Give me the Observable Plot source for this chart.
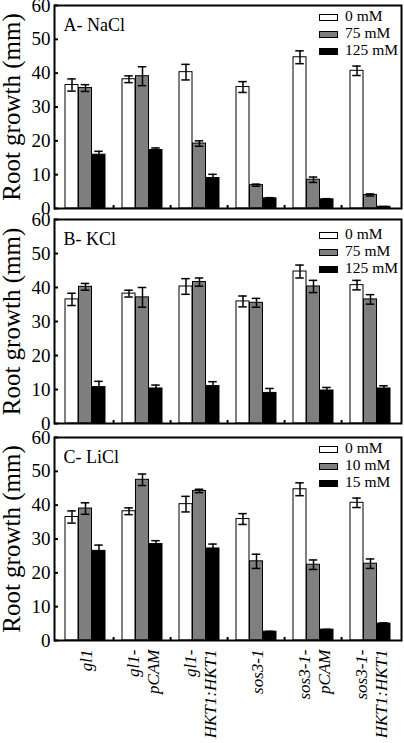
<!DOCTYPE html>
<html><head><meta charset="utf-8">
<script src="https://cdn.jsdelivr.net/npm/d3@7"></script>
<script src="https://cdn.jsdelivr.net/npm/@observablehq/plot@0.6"></script>
<style>
html,body{margin:0;padding:0;background:#fff;}
#chart{position:relative;width:404px;height:743px;overflow:hidden;font-family:"Liberation Serif","Times New Roman",serif;}
#chart svg{display:block;}
#chart svg text{font-family:"Liberation Serif","Times New Roman",serif;}
.panel{position:relative;}
.leg{position:absolute;font-size:15.5px;line-height:1;color:#000;white-space:nowrap;font-family:"Liberation Serif","Times New Roman",serif;}
.sw{position:absolute;width:17px;height:5px;border:1px solid #000;}
</style></head><body><div id="chart"></div>
<script>
// ---- data ----
const groups = ["gl1", "gl1-pCAM", "gl1-HKT1:HKT1", "sos3-1", "sos3-1-pCAM", "sos3-1-HKT1:HKT1"];
const groupLabels = ["gl1", "gl1-\npCAM", "gl1-\nHKT1:HKT1", "sos3-1", "sos3-1-\npCAM", "sos3-1-\nHKT1:HKT1"];
const yTicks = [0, 10, 20, 30, 40, 50, 60];
const panelTitles = ["A- NaCl", "B- KCl", "C- LiCl"];
const legendNaCl = ["0 mM", "75 mM", "125 mM"];
const legendKCl = ["0 mM", "75 mM", "125 mM"];
const legendLiCl = ["0 mM", "10 mM", "15 mM"];
const yLabel = "Root growth (mm)";

const control = [36.5, 38.2, 40.3, 35.9, 44.7, 40.7];
const controlErr = [1.8, 1.0, 2.3, 1.6, 1.9, 1.4];

const nacl75 = [35.6, 39.1, 19.2, 6.9, 8.5, 4.0];
const nacl75Err = [1.0, 2.8, 0.8, 0.3, 0.8, 0.3];
const nacl125 = [15.9, 17.3, 9.0, 3.0, 2.7, 0.5];
const nacl125Err = [1.0, 0.6, 1.1, 0.2, 0.2, 0.1];

const kcl75 = [40.2, 37.1, 41.6, 35.5, 40.3, 36.5];
const kcl75Err = [1.0, 2.9, 1.2, 1.3, 1.8, 1.4];
const kcl125 = [10.7, 10.3, 11.0, 9.0, 9.7, 10.3];
const kcl125Err = [1.7, 1.0, 1.3, 1.3, 0.9, 0.8];

const licl10 = [39.0, 47.5, 44.2, 23.4, 22.4, 22.7];
const licl10Err = [1.7, 1.7, 0.5, 2.1, 1.4, 1.4];
const licl15 = [26.5, 28.5, 27.2, 2.6, 3.2, 5.0];
const licl15Err = [1.7, 1.0, 1.3, 0.1, 0.1, 0.2];

// ---- styles ----
const fills = ["#ffffff", "#7f7f7f", "#000000"];
const W = 404, ML = 54, MR = 3;
const FONT = "'Liberation Serif', 'Times New Roman', serif";

const panels = [
  {title: panelTitles[0], legend: legendNaCl, series: [[control, controlErr], [nacl75, nacl75Err], [nacl125, nacl125Err]],
   height: 214, mt: 5, mb: 6, legTop: 14, xlabels: false},
  {title: panelTitles[1], legend: legendKCl, series: [[control, controlErr], [kcl75, kcl75Err], [kcl125, kcl125Err]],
   height: 216, mt: 5, mb: 7, legTop: 17.5, xlabels: false},
  {title: panelTitles[2], legend: legendLiCl, series: [[control, controlErr], [licl10, licl10Err], [licl15, licl15Err]],
   height: 313, mt: 7, mb: 103, legTop: 16, xlabels: true}
];

const chart = document.getElementById("chart");
const padInner = 0.3;
const step = (W - ML - MR) / groups.length;
const bw = step * (1 - padInner);
const third = bw / 3;
const cap = 9;

panels.forEach((p) => {
  const innerH = p.height - p.mt - p.mb;
  const marks = [];
  const datasets = p.series.map(([vals, errs]) => groups.map((g, gi) => ({g, v: vals[gi], e: errs[gi]})));
  datasets.forEach((data, si) => {
    marks.push(Plot.barY(data, {x: "g", y: "v", fill: fills[si], stroke: "#000", strokeWidth: 1,
      insetLeft: si * third, insetRight: (2 - si) * third}));
  });
  datasets.forEach((data, si) => {
    const dx = (si - 1) * third;
    marks.push(Plot.ruleX(data, {x: "g", y1: d => d.v - d.e, y2: d => d.v + d.e, dx, stroke: "#000", strokeWidth: 1.5}));
    marks.push(Plot.tickY(data, {x: "g", y: d => d.v + d.e, dx, stroke: "#000", strokeWidth: 1.5,
      insetLeft: (bw - cap) / 2, insetRight: (bw - cap) / 2}));
    marks.push(Plot.tickY(data, {x: "g", y: d => d.v - d.e, dx, stroke: "#000", strokeWidth: 1.5,
      insetLeft: (bw - cap) / 2, insetRight: (bw - cap) / 2}));
  });
  // small ticks between groups on the bottom axis
  marks.push(Plot.ruleX(groups.slice(1), {x: d => d, dx: -step / 2, insetTop: innerH - 3, stroke: "#000", strokeWidth: 2}));
  marks.push(Plot.frame({stroke: "#000", strokeWidth: 2}));
  marks.push(Plot.axisY(yTicks, {tickSize: -4, tickPadding: 8, fontSize: 19, strokeWidth: 2, label: null, fontFamily: FONT}));
  marks.push(Plot.text([yLabel], {frameAnchor: "left", rotate: -90, dx: -43, textAnchor: "middle", lineAnchor: "middle", fontSize: 25, fontFamily: FONT}));
  marks.push(Plot.text([p.title], {frameAnchor: "top-left", textAnchor: "start", lineAnchor: "top", dx: 9, dy: 12.5, fontSize: 18, fontFamily: FONT}));
  if (p.xlabels) {
    marks.push(Plot.text(groups, {x: d => d, text: (d, i) => groupLabels[i], frameAnchor: "bottom", rotate: -90,
      textAnchor: "end", lineAnchor: "middle", dy: 9, fontSize: 17, fontStyle: "italic", lineHeight: 1.18, fontFamily: FONT}));
  }
  const svg = Plot.plot({
    width: W, height: p.height,
    marginLeft: ML, marginRight: MR, marginTop: p.mt, marginBottom: p.mb,
    style: {fontFamily: FONT, background: "#fff", color: "#000", overflow: "visible"},
    x: {domain: groups, paddingInner: padInner, paddingOuter: padInner / 2, axis: null},
    y: {domain: [0, 60], axis: null},
    marks
  });
  const div = document.createElement("div");
  div.className = "panel";
  div.appendChild(svg);
  p.legend.forEach((lab, i) => {
    const top = p.legTop + i * 17.2;
    const sw = document.createElement("div");
    sw.className = "sw";
    sw.style.left = "319px";
    sw.style.top = top + "px";
    sw.style.background = fills[i];
    div.appendChild(sw);
    const t = document.createElement("div");
    t.className = "leg";
    t.style.left = "345px";
    t.style.top = (top - 6) + "px";
    t.textContent = lab;
    div.appendChild(t);
  });
  chart.appendChild(div);
});
</script></body></html>
